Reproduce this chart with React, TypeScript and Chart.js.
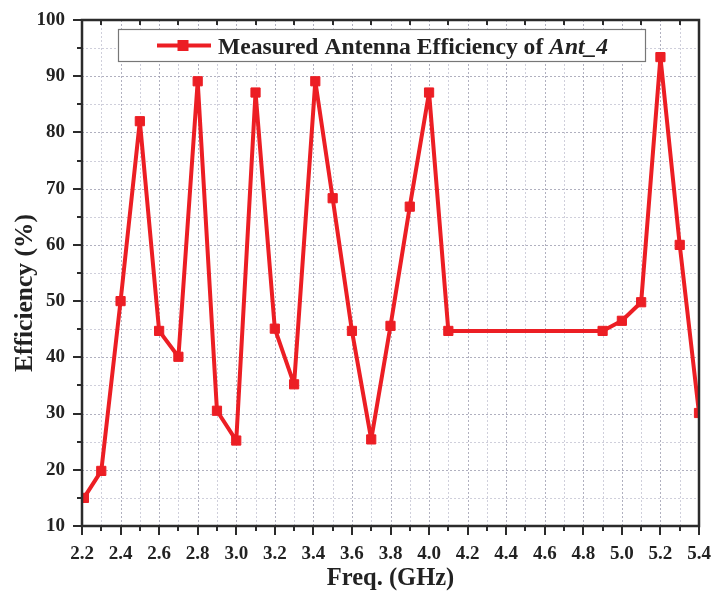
import React, { useEffect, useRef } from 'react';
import { Chart, registerables } from 'chart.js';
Chart.register(...registerables);

const freqGHz = [2.21, 2.3, 2.4, 2.5, 2.6, 2.7, 2.8, 2.9, 3.0, 3.1, 3.2, 3.3, 3.41, 3.5, 3.6, 3.7, 3.8, 3.9, 4.0, 4.1, 4.9, 5.0, 5.1, 5.2, 5.3, 5.4];
const efficiency = [15, 19.8, 50, 82, 44.7, 40.1, 89.1, 30.5, 25.2, 87.1, 45.1, 35.2, 89.1, 68.3, 44.7, 25.4, 45.6, 66.8, 87.1, 44.7, 44.7, 46.5, 49.8, 93.4, 60, 30.1];
const xTickValues = [2.2, 2.4, 2.6, 2.8, 3.0, 3.2, 3.4, 3.6, 3.8, 4.0, 4.2, 4.4, 4.6, 4.8, 5.0, 5.2, 5.4];
const yTickValues = [10, 20, 30, 40, 50, 60, 70, 80, 90, 100];
const legendMain = 'Measured Antenna Efficiency of ';
const legendItalic = 'Ant_4';
const xTitle = 'Freq. (GHz)';
const yTitle = 'Efficiency (%)';

const RED = 'rgb(236,30,36)';
const AXIS = '#2b2b2b';
const FONT = '"Liberation Serif", "Times New Roman", serif';

const framePlugin = {
  id: 'frame',
  beforeDatasetsDraw(chart: any) {
    const { ctx, chartArea: a, scales } = chart;
    const x = scales.x, y = scales.y;
    ctx.save();
    ctx.lineWidth = 1;
    ctx.setLineDash([2, 2]);
    for (let i = 1; i < 32; i++) {
      const v = xTickValues[0] + i * 0.1;
      const px = Math.round(x.getPixelForValue(v)) + 0.5;
      ctx.strokeStyle = i % 2 === 0 ? 'rgba(150,150,170,0.75)' : 'rgba(175,175,195,0.6)';
      ctx.beginPath();
      ctx.moveTo(px, a.top);
      ctx.lineTo(px, a.bottom);
      ctx.stroke();
    }
    for (let i = 1; i < 18; i++) {
      const v = yTickValues[0] + i * 5;
      const py = Math.round(y.getPixelForValue(v)) + 0.5;
      ctx.strokeStyle = i % 2 === 0 ? 'rgba(150,150,170,0.75)' : 'rgba(175,175,195,0.6)';
      ctx.beginPath();
      ctx.moveTo(a.left, py);
      ctx.lineTo(a.right, py);
      ctx.stroke();
    }
    ctx.restore();
  },
  afterDraw(chart: any) {
    const { ctx, chartArea: a, scales } = chart;
    const x = scales.x, y = scales.y;
    ctx.save();
    ctx.setLineDash([]);
    ctx.strokeStyle = AXIS;
    ctx.lineWidth = 2;
    for (let i = 0; i <= 32; i++) {
      const v = xTickValues[0] + i * 0.1;
      const px = Math.round(x.getPixelForValue(v));
      const len = i % 2 === 0 ? 9 : 5;
      ctx.beginPath();
      ctx.moveTo(px, a.bottom);
      ctx.lineTo(px, a.bottom + len);
      ctx.stroke();
      if (i % 2 === 1) {
        ctx.beginPath();
        ctx.moveTo(px, a.top);
        ctx.lineTo(px, a.top + 5);
        ctx.stroke();
      }
    }
    for (let i = 0; i <= 18; i++) {
      const v = yTickValues[0] + i * 5;
      const py = Math.round(y.getPixelForValue(v));
      const len = i % 2 === 0 ? 9 : 5;
      ctx.beginPath();
      ctx.moveTo(a.left, py);
      ctx.lineTo(a.left - len, py);
      ctx.stroke();
    }
    ctx.lineWidth = 2.5;
    ctx.strokeRect(a.left, a.top, a.right - a.left, a.bottom - a.top);

    // legend
    const lx = 118, ly = 29, lw = 527, lh = 32;
    ctx.fillStyle = '#fff';
    ctx.fillRect(lx, ly, lw, lh);
    ctx.lineWidth = 1.2;
    ctx.strokeStyle = '#777';
    ctx.strokeRect(lx + 0.5, ly + 0.5, lw, lh);
    const cy = ly + 16.5;
    ctx.strokeStyle = RED;
    ctx.lineWidth = 4;
    ctx.beginPath();
    ctx.moveTo(157, cy);
    ctx.lineTo(211, cy);
    ctx.stroke();
    ctx.fillStyle = RED;
    ctx.fillRect(183 - 5.5, cy - 5.5, 11, 11);
    ctx.fillStyle = '#222';
    ctx.textBaseline = 'alphabetic';
    ctx.textAlign = 'left';
    ctx.font = `bold 23.6px ${FONT}`;
    ctx.fillText(legendMain, 218, ly + 25);
    const w = ctx.measureText(legendMain).width;
    ctx.font = `italic bold 23.6px ${FONT}`;
    ctx.fillText(legendItalic, 218 + w, ly + 25);

    // axis titles
    ctx.fillStyle = '#222';
    ctx.textAlign = 'center';
    ctx.textBaseline = 'middle';
    ctx.font = `bold 24.5px ${FONT}`;
    ctx.fillText(xTitle, (a.left + a.right) / 2, 579);
    ctx.font = `bold 25.5px ${FONT}`;
    ctx.translate(25, 293);
    ctx.rotate(-Math.PI / 2);
    ctx.fillText(yTitle, 0, 0);
    ctx.restore();
  },
};

export default function App() {
  const ref = useRef<HTMLCanvasElement>(null);
  useEffect(() => {
    document.body.style.margin = '0';
    const chart = new Chart(ref.current!, {
      type: 'line',
      data: {
        datasets: [
          {
            label: legendMain + legendItalic,
            data: freqGHz.map((f, i) => ({ x: f, y: efficiency[i] })),
            borderColor: RED,
            backgroundColor: RED,
            borderWidth: 4,
            borderJoinStyle: 'round',
            pointStyle: 'rect',
            pointRadius: 6.5,
            pointBorderWidth: 1,
            pointBorderColor: RED,
            pointBackgroundColor: RED,
            tension: 0,
          },
        ],
      },
      options: {
        animation: false,
        responsive: true,
        maintainAspectRatio: false,
        layout: { padding: { top: 20, right: 14, left: 0, bottom: 0 } },
        plugins: { legend: { display: false }, tooltip: { enabled: false } },
        scales: {
          x: {
            type: 'linear',
            min: 2.2,
            max: 5.4,
            grid: { display: false, drawTicks: false },
            border: { display: false },
            afterBuildTicks: (s: any) => {
              s.ticks = xTickValues.map((v) => ({ value: v }));
            },
            afterFit: (s: any) => {
              s.height = 68;
              s.paddingLeft = 0;
              s.paddingRight = 0;
            },
            ticks: {
              autoSkip: false,
              maxRotation: 0,
              padding: 17,
              color: '#222',
              font: { family: FONT, size: 19, weight: 'bold' },
              callback: (v: any) => Number(v).toFixed(1),
            },
          },
          y: {
            type: 'linear',
            min: 10,
            max: 100,
            grid: { display: false, drawTicks: false },
            border: { display: false },
            afterBuildTicks: (s: any) => {
              s.ticks = yTickValues.map((v) => ({ value: v }));
            },
            afterFit: (s: any) => {
              s.width = 82;
              s.paddingTop = 0;
              s.paddingBottom = 0;
            },
            ticks: {
              padding: 17,
              color: '#222',
              font: { family: FONT, size: 19, weight: 'bold' },
              callback: (v: any) => String(v),
            },
          },
        },
      },
      plugins: [framePlugin],
    });
    return () => chart.destroy();
  }, []);
  return (
    <div style={{ position: 'relative', width: 713, height: 594 }}>
      <canvas ref={ref} />
    </div>
  );
}
